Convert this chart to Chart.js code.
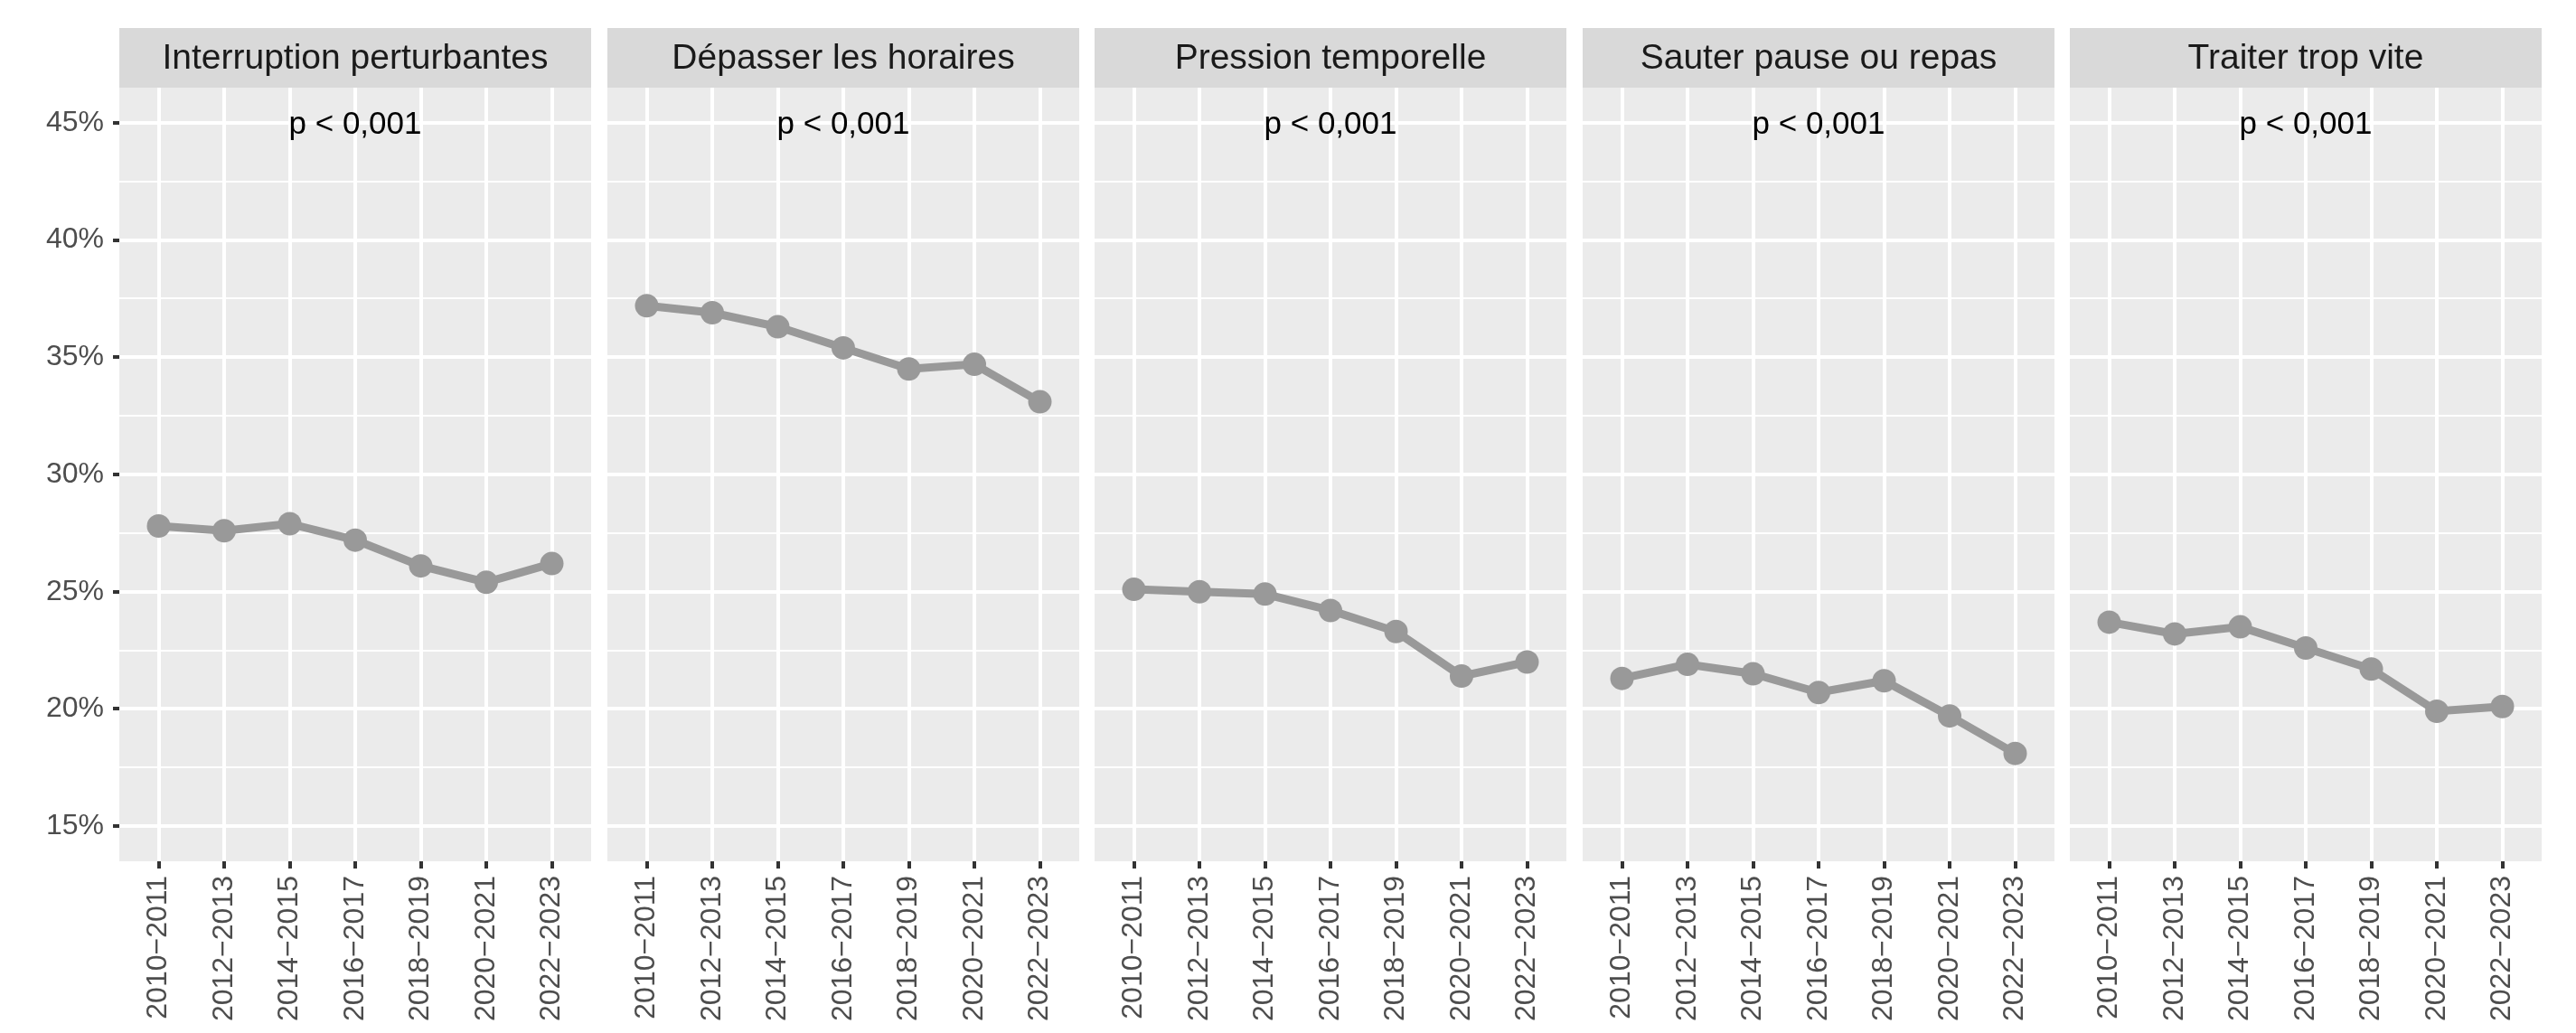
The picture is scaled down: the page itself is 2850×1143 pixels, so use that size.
<!DOCTYPE html>
<html>
<head>
<meta charset="utf-8">
<script src="https://cdn.jsdelivr.net/npm/chart.js@4.4.1/dist/chart.umd.min.js"></script>
<style>
  body { margin: 0; background: #fff; }
  #wrap { position: relative; width: 2850px; height: 1143px; }
  #wrap canvas { position: absolute; top: 0; }
</style>
</head>
<body>
<div id="wrap"></div>
<script>
// data
const periods = ['2010\u22122011', '2012\u22122013', '2014\u22122015', '2016\u22122017', '2018\u22122019', '2020\u22122021', '2022\u22122023'];
const panelTitles = ['Interruption perturbantes', 'Dépasser les horaires', 'Pression temporelle', 'Sauter pause ou repas', 'Traiter trop vite'];
const interruption = [27.8, 27.6, 27.9, 27.2, 26.1, 25.4, 26.2];
const depasser = [37.2, 36.9, 36.3, 35.4, 34.5, 34.7, 33.1];
const pression = [25.1, 25.0, 24.9, 24.2, 23.3, 21.4, 22.0];
const sauter = [21.3, 21.9, 21.5, 20.7, 21.2, 19.7, 18.1];
const traiter = [23.7, 23.2, 23.5, 22.6, 21.7, 19.9, 20.1];
const pLabels = ['p < 0,001', 'p < 0,001', 'p < 0,001', 'p < 0,001', 'p < 0,001'];
const yTicks = [15, 17.5, 20, 22.5, 25, 27.5, 30, 32.5, 35, 37.5, 40, 42.5, 45];

const series = [interruption, depasser, pression, sauter, traiter];

Chart.defaults.font.family = "'Liberation Sans', Arial, sans-serif";
Chart.defaults.animation = false;

const H = 1143, plotTop = 97, plotBottom = 953, panelW = 522, axisW = 132;
const lefts = [0, 672, 1211, 1751, 2290];

// grey strip + p-value, ggplot style
const facetPlugin = {
  id: 'facet',
  beforeDraw(chart, args, opts) {
    const c = chart.ctx, a = chart.chartArea;
    c.save();
    c.fillStyle = '#EBEBEB';
    c.fillRect(a.left, a.top, a.right - a.left, a.bottom - a.top);
    c.fillStyle = '#D9D9D9';
    c.fillRect(a.left, 31, a.right - a.left, a.top - 31);
    c.fillStyle = '#1A1A1A';
    c.font = "39px 'Liberation Sans', Arial, sans-serif";
    c.textAlign = 'center';
    c.textBaseline = 'middle';
    c.fillText(opts.title, (a.left + a.right) / 2, (31 + a.top) / 2 + 1);
    c.restore();
  },
  afterDatasetsDraw(chart, args, opts) {
    const c = chart.ctx, a = chart.chartArea;
    c.save();
    c.fillStyle = '#000000';
    c.font = "35px 'Liberation Sans', Arial, sans-serif";
    c.textAlign = 'center';
    c.textBaseline = 'middle';
    c.fillText(opts.p, (a.left + a.right) / 2, chart.scales.y.getPixelForValue(45) + 2);
    c.restore();
  }
};

series.forEach((vals, k) => {
  const first = k === 0;
  const cv = document.createElement('canvas');
  const w = first ? panelW + axisW : panelW;
  cv.width = w; cv.height = H;
  cv.style.left = lefts[k] + 'px';
  cv.style.width = w + 'px'; cv.style.height = H + 'px';
  document.getElementById('wrap').appendChild(cv);

  new Chart(cv, {
    type: 'line',
    data: {
      datasets: [{
        data: vals.map((v, i) => ({ x: i + 1, y: v })),
        borderColor: '#999999',
        backgroundColor: '#999999',
        borderWidth: 9,
        pointRadius: 13,
        pointHoverRadius: 13,
        pointBorderWidth: 0,
        pointBackgroundColor: '#999999',
        tension: 0
      }]
    },
    options: {
      responsive: false,
      devicePixelRatio: 1,
      layout: { autoPadding: false, padding: { top: plotTop, left: 0, right: 0, bottom: 0 } },
      plugins: {
        legend: { display: false },
        tooltip: { enabled: false },
        facet: { title: panelTitles[k], p: pLabels[k] }
      },
      scales: {
        x: {
          type: 'linear',
          min: 0.4, max: 7.6,
          afterBuildTicks: s => { s.ticks = periods.map((p, i) => ({ value: i + 1 })); },
          afterFit: s => { s.height = H - plotBottom; s.paddingLeft = 0; s.paddingRight = 0; },
          border: { display: false },
          grid: { color: '#FFFFFF', lineWidth: 4, tickColor: '#333333', tickLength: 8, tickWidth: 4 },
          ticks: {
            autoSkip: false, minRotation: 90, maxRotation: 90, padding: 8,
            color: '#4D4D4D', font: { size: 32 },
            callback: v => periods[v - 1]
          }
        },
        y: {
          type: 'linear',
          min: 13.5, max: 46.5,
          afterBuildTicks: s => { s.ticks = yTicks.map(v => ({ value: v })); },
          afterFit: s => { s.width = first ? axisW : 0; s.paddingTop = 0; s.paddingBottom = 0; },
          border: { display: false },
          grid: {
            color: '#FFFFFF',
            lineWidth: c => (c.tick && c.tick.value % 5 === 0) ? 4 : 2,
            drawTicks: first,
            tickLength: 7,
            tickWidth: 4,
            tickColor: c => (c.tick && c.tick.value % 5 === 0) ? '#333333' : 'rgba(0,0,0,0)'
          },
          ticks: {
            display: first, autoSkip: false, padding: 10,
            color: '#4D4D4D', font: { size: 32 },
            callback: v => v % 5 === 0 ? v + '%' : ''
          }
        }
      }
    },
    plugins: [facetPlugin]
  });
});
</script>
</body>
</html>
